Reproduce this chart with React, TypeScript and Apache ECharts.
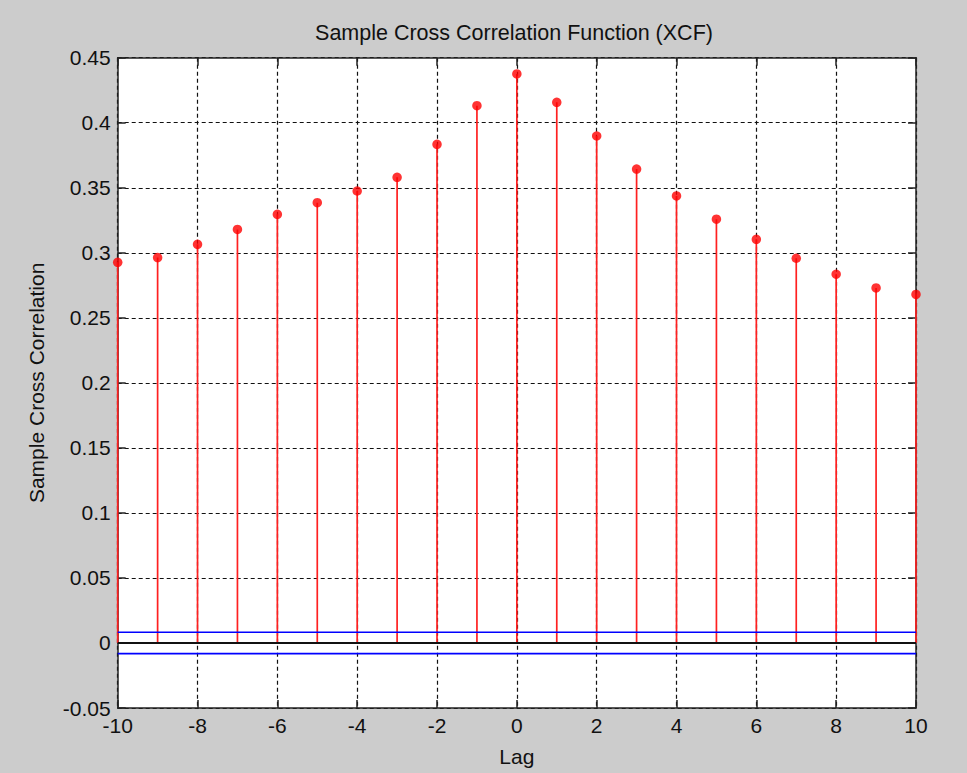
import React, { useEffect, useRef } from "react";
import * as echarts from "echarts";

const lags = [-10, -9, -8, -7, -6, -5, -4, -3, -2, -1, 0, 1, 2, 3, 4, 5, 6, 7, 8, 9, 10];
const xcf = [
  0.2927, 0.2963, 0.3065, 0.318, 0.3296, 0.3385, 0.3475, 0.358, 0.3834, 0.4131,
  0.4375, 0.4157, 0.3898, 0.3644, 0.3437, 0.3258, 0.3104, 0.2958, 0.2835, 0.273, 0.268,
];
const confBound = 0.0082;
const xRange = [-10, 10];
const yRange = [-0.05, 0.45];

const FONT = "'Liberation Sans', Arial, sans-serif";
const TXT = "#111";

export default function App() {
  const ref = useRef<HTMLDivElement>(null);
  useEffect(() => {
    if (!ref.current) return;
    const chart = echarts.init(ref.current, null, { renderer: "svg" });
    const stemData = lags.map((l, i) => [l, xcf[i]]);
    const fmtY = (v: number) => String(parseFloat(v.toFixed(2)));
    const grid = { left: 117.7, right: 51, top: 57.7, bottom: 65 };
    const dashed = { show: true, lineStyle: { color: "#111", width: 1.2, type: [4, 3] as any } };
    const box = { show: true, onZero: false, lineStyle: { color: "#222", width: 1.5 } };
    const tick = { show: true, inside: true, length: 8, lineStyle: { color: "#222", width: 1.5 } };
    chart.setOption({
      animation: false,
      backgroundColor: "#cccccc",
      title: {
        text: "Sample Cross Correlation Function (XCF)",
        left: 509,
        top: 17,
        textAlign: "center",
        textStyle: { fontFamily: FONT, fontSize: 21.5, fontWeight: "normal", color: TXT },
      },
      grid: { ...grid, show: true, backgroundColor: "#fff", borderWidth: 0 },
      xAxis: [
        {
          type: "value",
          min: xRange[0],
          max: xRange[1],
          interval: 2,
          position: "bottom",
          name: "Lag",
          nameLocation: "middle",
          nameGap: 38,
          nameTextStyle: { fontFamily: FONT, fontSize: 21, color: TXT },
          axisLine: box,
          axisTick: tick,
          axisLabel: { fontFamily: FONT, fontSize: 21, color: TXT, margin: 7 },
          splitLine: dashed,
        },
        {
          type: "value",
          min: xRange[0],
          max: xRange[1],
          interval: 2,
          position: "top",
          axisLine: box,
          axisTick: tick,
          axisLabel: { show: false },
          splitLine: { show: false },
        },
      ],
      yAxis: [
        {
          type: "value",
          min: yRange[0],
          max: yRange[1],
          interval: 0.05,
          position: "left",
          name: "Sample Cross Correlation",
          nameLocation: "middle",
          nameGap: 71,
          nameTextStyle: { fontFamily: FONT, fontSize: 21, color: TXT },
          axisLine: box,
          axisTick: tick,
          axisLabel: { fontFamily: FONT, fontSize: 21, color: TXT, margin: 7, formatter: fmtY },
          splitLine: dashed,
        },
        {
          type: "value",
          min: yRange[0],
          max: yRange[1],
          interval: 0.05,
          position: "right",
          axisLine: box,
          axisTick: tick,
          axisLabel: { show: false },
          splitLine: { show: false },
        },
      ],
      series: [
        {
          type: "bar",
          name: "stems",
          data: stemData,
          barWidth: 1.7,
          itemStyle: { color: "#ff2020" },
          z: 3,
        },
        {
          type: "line",
          name: "upper",
          data: [[xRange[0], confBound], [xRange[1], confBound]],
          symbol: "none",
          lineStyle: { color: "#0000ff", width: 1.6 },
          z: 4,
        },
        {
          type: "line",
          name: "lower",
          data: [[xRange[0], -confBound], [xRange[1], -confBound]],
          symbol: "none",
          lineStyle: { color: "#0000ff", width: 1.6 },
          z: 4,
        },
        {
          type: "line",
          name: "baseline",
          data: [[xRange[0], 0], [xRange[1], 0]],
          symbol: "none",
          lineStyle: { color: "#111", width: 2 },
          z: 5,
        },
        {
          type: "scatter",
          name: "points",
          data: stemData,
          symbol: "circle",
          symbolSize: 9.5,
          itemStyle: { color: "#ff0000" },
          z: 6,
        },
      ],
    });
    return () => chart.dispose();
  }, []);
  return (
    <div
      ref={ref}
      style={{ position: "fixed", left: 0, top: 0, width: 967, height: 773 }}
    />
  );
}
